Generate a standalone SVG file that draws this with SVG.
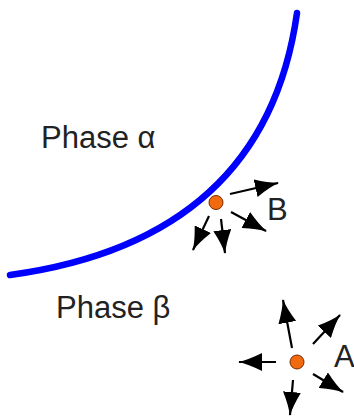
<svg xmlns="http://www.w3.org/2000/svg" width="354" height="418" viewBox="0 0 354 418">
<defs>
<marker id="ah" markerUnits="userSpaceOnUse" markerWidth="24" markerHeight="18" refX="23" refY="9" orient="auto">
<path d="M0,0 L0,18 Q14,11 24,9 Q14,7 0,0 z" fill="#000"/>
</marker>
<style>
.lbl{font-family:"Liberation Sans",Arial,sans-serif;font-size:31px;fill:#222}
.arr{stroke:#000;stroke-width:2.2;fill:none;marker-end:url(#ah)}
.dot{fill:#f26a0f;stroke:#7a2a00;stroke-width:1}
</style>
</defs>
<rect width="354" height="418" fill="#fff"/>
<g id="boundary">
<path d="M10,275 Q265,240 297,13" fill="none" stroke="#0000ff" stroke-width="6.5" stroke-linecap="round"/>
</g>
<g id="phase-alpha"><text class="lbl" x="41" y="148">Phase α</text></g>
<g id="phase-beta"><text class="lbl" x="56" y="318">Phase β</text></g>
<g id="connectors">
<line class="arr" x1="230" y1="194" x2="278" y2="183"/>
<line class="arr" x1="231" y1="212" x2="266" y2="231"/>
<line class="arr" x1="209" y1="216" x2="193" y2="250"/>
<line class="arr" x1="221" y1="219" x2="225" y2="253"/>
<line class="arr" x1="292" y1="348" x2="283" y2="300"/>
<line class="arr" x1="313" y1="344" x2="340" y2="315"/>
<line class="arr" x1="276" y1="362" x2="239" y2="362"/>
<line class="arr" x1="313" y1="374" x2="343" y2="392"/>
<line class="arr" x1="293" y1="380" x2="290" y2="415"/>
</g>
<g id="B"><circle class="dot" cx="216" cy="202.5" r="7"/><text class="lbl" x="267" y="220">B</text></g>
<g id="A"><circle class="dot" cx="297" cy="362" r="7"/><text class="lbl" x="334" y="367">A</text></g>
</svg>
